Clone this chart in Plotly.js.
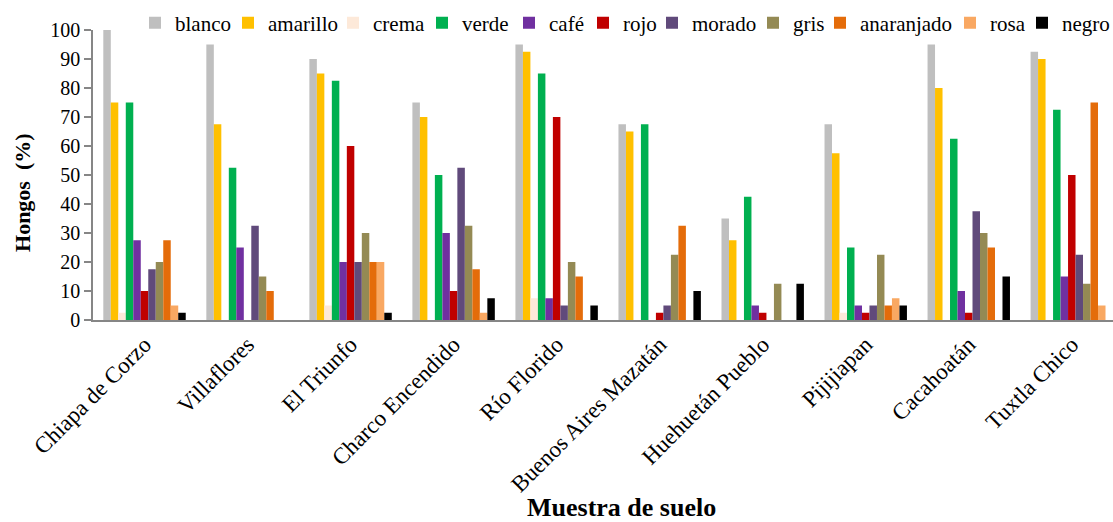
<!DOCTYPE html>
<html>
<head>
<meta charset="utf-8">
<script src="https://cdn.plot.ly/plotly-3.0.1.min.js"></script>
<style>
  html, body { margin: 0; padding: 0; background: #fff; overflow: hidden; }
  #chart { width: 1113px; height: 522px; }
</style>
</head>
<body>
<div id="chart"></div>
<script>
// Soil samples (x categories)
const muestras = ["Chiapa de Corzo", "Villaflores", "El Triunfo", "Charco Encendido", "Río Florido",
                  "Buenos Aires Mazatán", "Huehuetán Pueblo", "Pijijiapan", "Cacahoatán", "Tuxtla Chico"];

// Percentage of fungi by colony colour, one value per soil sample
const blanco     = [100, 95, 90, 75, 95, 67.5, 35, 67.5, 95, 92.5];
const amarillo   = [75, 67.5, 85, 70, 92.5, 65, 27.5, 57.5, 80, 90];
const crema      = [2.5, 0, 5, 0, 7.5, 0, 0, 2.5, 0, 0];
const verde      = [75, 52.5, 82.5, 50, 85, 67.5, 42.5, 25, 62.5, 72.5];
const cafe       = [27.5, 25, 20, 30, 7.5, 0, 5, 5, 10, 15];
const rojo       = [10, 0, 60, 10, 70, 2.5, 2.5, 2.5, 2.5, 50];
const morado     = [17.5, 32.5, 20, 52.5, 5, 5, 0, 5, 37.5, 22.5];
const gris       = [20, 15, 30, 32.5, 20, 22.5, 12.5, 22.5, 30, 12.5];
const anaranjado = [27.5, 10, 20, 17.5, 15, 32.5, 0, 5, 25, 75];
const rosa       = [5, 0, 20, 2.5, 0, 0, 0, 7.5, 0, 5];
const negro      = [2.5, 0, 2.5, 7.5, 5, 10, 12.5, 5, 15, 0];

// Y axis ticks
const yTicks = [0, 10, 20, 30, 40, 50, 60, 70, 80, 90, 100];

const series = [
  { name: "blanco",     values: blanco,     color: "#BFBFBF" },
  { name: "amarillo",   values: amarillo,   color: "#FFC000" },
  { name: "crema",      values: crema,      color: "#FDE9D9" },
  { name: "verde",      values: verde,      color: "#00B050" },
  { name: "café",       values: cafe,       color: "#7030A0" },
  { name: "rojo",       values: rojo,       color: "#C00000" },
  { name: "morado",     values: morado,     color: "#604A7B" },
  { name: "gris",       values: gris,       color: "#948A54" },
  { name: "anaranjado", values: anaranjado, color: "#E46C0A" },
  { name: "rosa",       values: rosa,       color: "#F9A862" },
  { name: "negro",      values: negro,      color: "#000000" }
];

const FONT = "Liberation Serif, Times New Roman, serif";
const AXIS_GRAY = "#868686";

// Page geometry (px)
const W = 1113, H = 522;
const M = { l: 93, r: 0, t: 30, b: 202 };
const plotW = W - M.l - M.r;

// Left edge (px) of each legend entry along the top row
const legendLeftPx = [135, 228, 333, 422, 509, 583, 652, 753, 820, 950, 1022];

const legendKey = i => (i === 0 ? "legend" : "legend" + (i + 1));

const traces = series.map((s, i) => ({
  type: "bar",
  name: s.name,
  x: muestras,
  y: s.values,
  legend: legendKey(i),
  marker: { color: s.color, line: { width: 0 } },
  hoverinfo: "x+y+name"
}));

const layout = {
  width: W,
  height: H,
  margin: { l: M.l, r: M.r, t: M.t, b: M.b, autoexpand: false },
  paper_bgcolor: "#ffffff",
  plot_bgcolor: "#ffffff",
  font: { family: FONT, color: "#000000", size: 20 },
  barmode: "group",
  bargap: 0.2,
  bargroupgap: 0,
  showlegend: true,
  xaxis: {
    type: "category",
    range: [-0.5, 9.4],
    showline: true,
    linecolor: AXIS_GRAY,
    linewidth: 2,
    ticks: "",
    tickangle: -45,
    tickfont: { family: FONT, size: 23, color: "#000000" },
    showgrid: false,
    zeroline: false,
    automargin: false
  },
  yaxis: {
    range: [0, 100],
    tickvals: yTicks,
    ticktext: yTicks.map(String),
    showline: true,
    linecolor: AXIS_GRAY,
    linewidth: 1.5,
    ticks: "outside",
    ticklen: 7,
    tickwidth: 1.5,
    tickcolor: AXIS_GRAY,
    tickfont: { family: FONT, size: 20, color: "#000000" },
    showgrid: false,
    zeroline: false,
    automargin: false
  },
  annotations: [
    {
      text: "<b>Hongos&nbsp;&nbsp;(%)</b>",
      xref: "paper", yref: "paper",
      x: (23 - M.l) / plotW, y: 0.438,
      xanchor: "center", yanchor: "middle",
      textangle: -90,
      showarrow: false,
      font: { family: FONT, size: 22, color: "#000000" }
    },
    {
      text: "<b>Muestra de suelo</b>",
      xref: "paper", yref: "paper",
      x: (621 - M.l) / plotW, y: -0.645,
      xanchor: "center", yanchor: "middle",
      showarrow: false,
      font: { family: FONT, size: 26, color: "#000000" }
    }
  ]
};

// One single-entry legend per series, laid out in a row above the plot
series.forEach((s, i) => {
  layout[legendKey(i)] = {
    orientation: "h",
    x: (legendLeftPx[i] - M.l) / plotW, xanchor: "left",
    y: 1.024, yanchor: "middle",
    font: { family: FONT, size: 21, color: "#000000" },
    bgcolor: "rgba(0,0,0,0)",
    borderwidth: 0
  };
});

Plotly.newPlot("chart", traces, layout, { displayModeBar: false });
</script>
</body>
</html>
